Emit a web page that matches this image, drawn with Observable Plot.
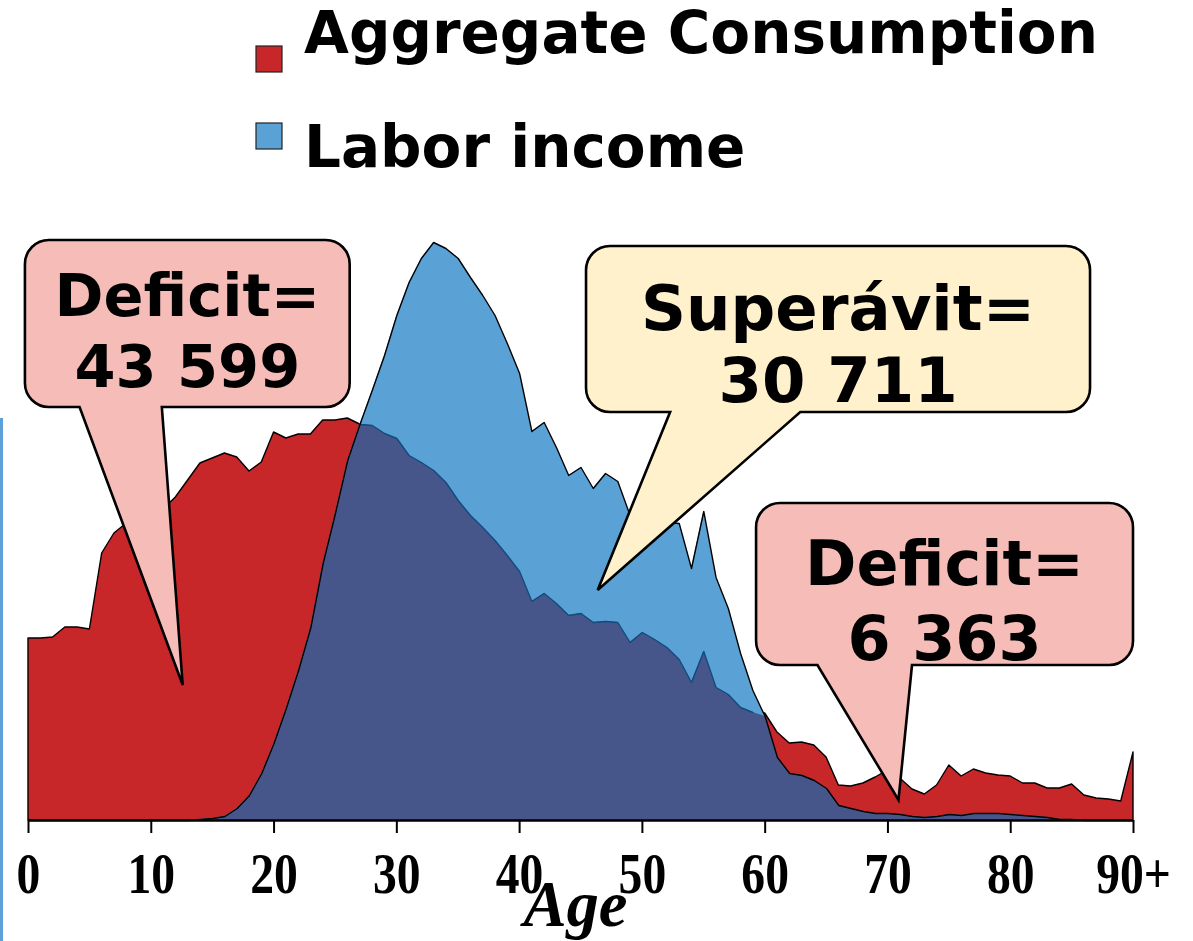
<!DOCTYPE html>
<html>
<head>
<meta charset="utf-8">
<script src="https://cdn.jsdelivr.net/npm/d3@7"></script>
<script src="https://cdn.jsdelivr.net/npm/@observablehq/plot@0.6"></script>
<style>
  html, body { margin: 0; padding: 0; background: #fff; }
  #wrap { position: relative; width: 1193px; height: 941px; overflow: hidden; }
  #edge { position: absolute; left: 0; top: 418px; width: 3px; height: 523px; background: #5d9fd8; }
</style>
</head>
<body>
<div id="wrap"><div id="edge"></div></div>
<script>
// ---- Data ----
const ages = [0,1,2,3,4,5,6,7,8,9,10,11,12,13,14,15,16,17,18,19,20,21,22,23,24,25,26,27,28,29,30,
  31,32,33,34,35,36,37,38,39,40,41,42,43,44,45,46,47,48,49,50,51,52,53,54,55,56,57,58,59,60,
  61,62,63,64,65,66,67,68,69,70,71,72,73,74,75,76,77,78,79,80,81,82,83,84,85,86,87,88,89,90];

const consumption = [182,182,183,193,193,191,267,287,297,300,305,311,323,340,357,362,367,363,349,358,
  388,382,386,386,400,400,402,396,395,387,382,365,358,350,338,320,305,293,280,265,
  249,219,227,217,205,207,198,199,198,178,188,181,173,161,138,169,133,126,113,108,
  107,88,77,78,75,63,35,34,37,43,50,42,31,26,35,55,44,51,47,45,
  44,37,37,32,32,36,25,22,21,19,68];

const laborIncome = [0,0,0,0,0,0,0,0,0,0,0,0,0,0,1,2,4,12,25,47,
  77,112,150,193,257,307,360,396,430,465,505,538,562,578,572,562,543,525,505,477,
  447,389,398,373,345,353,332,347,339,305,303,300,298,297,252,309,243,212,167,130,
  104,63,47,45,40,32,15,12,9,7,7,6,4,3,4,6,5,7,7,7,
  6,5,4,3,1,1,0,0,0,0,0];

const tickValues = [0,10,20,30,40,50,60,70,80,90];
const tickLabels = ["0","10","20","30","40","50","60","70","80","90+"];

const seriesNames = ["Aggregate Consumption", "Labor income"];
const axisTitle = "Age";

const callouts = [
  {lines: ["Deficit=", "43 599"], x0: -0.25, x1: 26.2, top: 580, bottom: 413,
   baseL: 4.2, baseR: 10.9, tip: [12.6, 135], fill: "#f5bcb8", size: 59, base1: 76, base2: 147},
  {lines: ["Superávit=", "30 711"], x0: 45.45, x1: 86.5, top: 574, bottom: 408,
   baseL: 52.3, baseR: 62.9, tip: [46.4, 230], fill: "#fff1cc", size: 62.5, base1: 84, base2: 156},
  {lines: ["Deficit=", "6 363"], x0: 59.3, x1: 90.0, top: 317, bottom: 155,
   baseL: 64.3, baseR: 72.0, tip: [70.9, 20], fill: "#f5bcb8", size: 62, base1: 82, base2: 157}
];

// ---- Colors ----
const RED = "#c8272a", BLUE = "#5aa2d5", DARK = "#46568a", DARKLINE = "#124b7c";

const data = ages.map((a, i) => ({age: a, c: consumption[i], l: laborIncome[i]}));

const plot = Plot.plot({
  width: 1193, height: 941,
  marginLeft: 28, marginRight: 60, marginTop: 220, marginBottom: 121,
  x: {domain: [0, 90]},
  y: {domain: [0, 600], axis: null},
  style: {background: "transparent"},
  marks: [
    Plot.areaY(data, {x: "age", y: "c", fill: RED, stroke: "black", strokeWidth: 1.4}),
    Plot.areaY(data, {x: "age", y: "l", fill: BLUE}),
    Plot.areaY(data, {x: "age", y: d => Math.min(d.c, d.l), fill: DARK}),
    Plot.lineY(data, {x: "age", y: d => d.c <= d.l ? d.c : NaN, stroke: DARKLINE, strokeWidth: 1.4}),
    Plot.lineY(data, {x: "age", y: "l", stroke: "black", strokeWidth: 1.4}),
    Plot.ruleY([0], {stroke: "black", strokeWidth: 2.5}),
    Plot.axisX({ticks: tickValues, tickFormat: d => tickLabels[tickValues.indexOf(d)],
      tickSize: 13, tickPadding: 20, strokeWidth: 2, label: null,
      fontFamily: "Liberation Serif", fontWeight: "bold", fontSize: 56, fill: "black"})
  ]
});

document.getElementById("wrap").appendChild(plot);

const svg = d3.select(plot);
svg.style("position", "absolute").style("left", "0px").style("top", "0px").style("overflow", "visible");
const sx = plot.scale("x"), sy = plot.scale("y");
const X = v => sx.apply(v), Y = v => sy.apply(v);

// condensed look for the serif tick labels
svg.selectAll("text").each(function() {
  const t = this.textContent;
  if (tickLabels.includes(t) && this.closest("g[aria-label*='tick label']")) {
    const w = this.getComputedTextLength();
    this.setAttribute("textLength", (w * 0.85).toFixed(1));
    this.setAttribute("lengthAdjust", "spacingAndGlyphs");
  }
});

// Axis title
const title = svg.append("text")
  .attr("x", (X(0) + X(90)) / 2 - 5).attr("y", 926)
  .attr("text-anchor", "middle")
  .attr("font-family", "Liberation Serif").attr("font-style", "italic").attr("font-weight", "bold")
  .attr("font-size", 66).attr("fill", "black")
  .text(axisTitle);
{
  const w = title.node().getComputedTextLength();
  title.attr("textLength", (w * 0.98).toFixed(1)).attr("lengthAdjust", "spacingAndGlyphs");
}

// Legend
const legendColors = [RED, BLUE];
const legendRows = [{sq: 46, base: 53}, {sq: 123, base: 167}];
seriesNames.forEach((name, i) => {
  svg.append("rect").attr("x", 256).attr("y", legendRows[i].sq).attr("width", 26).attr("height", 26)
    .attr("fill", legendColors[i]).attr("stroke", "#222").attr("stroke-width", 1.2);
  svg.append("text").attr("x", 304).attr("y", legendRows[i].base)
    .attr("text-anchor", "start")
    .attr("font-family", "DejaVu Sans").attr("font-weight", "bold").attr("font-size", 58)
    .attr("fill", "black").text(name);
});

// Callouts
callouts.forEach(c => {
  const x0 = X(c.x0), x1 = X(c.x1), yt = Y(c.top), yb = Y(c.bottom), r = 24;
  const p = d3.path();
  p.moveTo(x0 + r, yt);
  p.lineTo(x1 - r, yt);
  p.arcTo(x1, yt, x1, yt + r, r);
  p.lineTo(x1, yb - r);
  p.arcTo(x1, yb, x1 - r, yb, r);
  p.lineTo(X(c.baseR), yb);
  p.lineTo(X(c.tip[0]), Y(c.tip[1]));
  p.lineTo(X(c.baseL), yb);
  p.lineTo(x0 + r, yb);
  p.arcTo(x0, yb, x0, yb - r, r);
  p.lineTo(x0, yt + r);
  p.arcTo(x0, yt, x0 + r, yt, r);
  p.closePath();
  svg.append("path").attr("d", p.toString()).attr("fill", c.fill)
    .attr("stroke", "black").attr("stroke-width", 2.6).attr("stroke-linejoin", "miter");
  const cx = (x0 + x1) / 2;
  [c.base1, c.base2].forEach((b, k) => {
    svg.append("text").attr("x", cx).attr("y", yt + b).attr("text-anchor", "middle")
      .attr("font-family", "DejaVu Sans").attr("font-weight", "bold").attr("font-size", c.size)
      .attr("fill", "black").text(c.lines[k]);
  });
});
</script>
</body>
</html>
